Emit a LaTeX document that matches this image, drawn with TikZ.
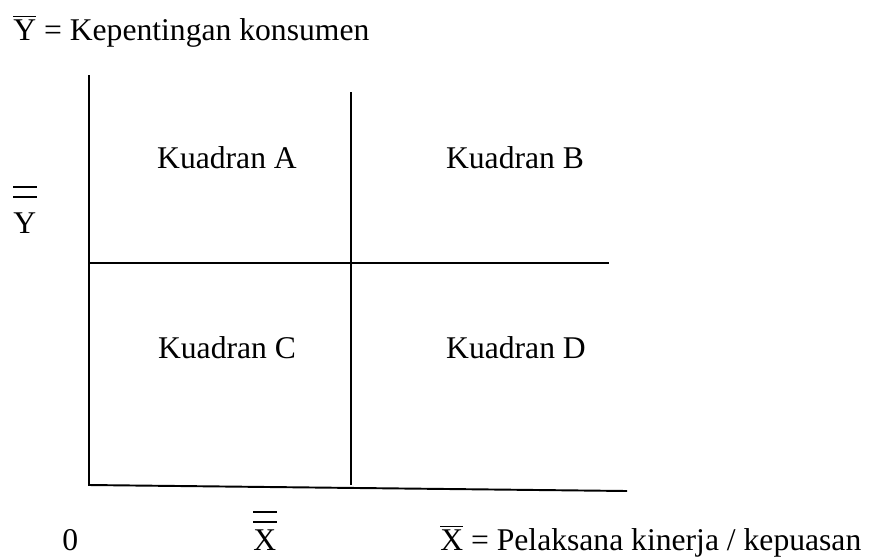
\documentclass[tikz,border=0pt]{standalone}
\usepackage{fontspec}
\setmainfont{Liberation Serif}
\usepackage{tikz}
\usetikzlibrary{positioning}

\tikzset{
    txt/.style={font=\fontsize{18}{21}\selectfont, inner sep=0pt},
    axis/.style={line width=1.1pt},
    bar/.style={line width=0.8pt}
}

\begin{document}
\begin{tikzpicture}[x=0.02cm, y=-0.02cm]
    \useasboundingbox (0,0) rectangle (874,558);
    % axes and quadrant lines
    \coordinate (O) at (89,485);
    \coordinate (ytop) at (89,75);
    \coordinate (xend) at (627,491);
    \coordinate (mtop) at (351,92);
    \coordinate (mbot) at (351,485);
    \coordinate (hl) at (89,263);
    \coordinate (hr) at (609,263);
    \draw[axis] (ytop) -- (O) -- (xend);
    \draw[axis] (mtop) -- (mbot);
    \draw[axis] (hl) -- (hr);
    \foreach \q/\x/\y in {A/227/168, B/515/168, C/227/358, D/516/358} {
        \node[txt, anchor=base] (k\q) at (\x,\y) {Kuadran \q};
    }
    % labels
    \node[txt, anchor=base west] (ylegend) at (13,40) {$\overline{\mbox{Y}}$ = Kepentingan konsumen};
    \node[txt, anchor=base west] (xlegend) at (440,550) {$\overline{\mbox{X}}$ = Pelaksana kinerja / kepuasan};
    \node[txt, anchor=base west] (zero) at (62,550) {0};
    \node[txt, anchor=base west] (ymean) at (13,233) {Y};
    \node[txt, anchor=base west] (xmean) at (253,550) {X};
    \draw[bar] ([yshift=8.5pt]ymean.north west) -- ([yshift=8.5pt]ymean.north east);
    \draw[bar] ([yshift=14.2pt]ymean.north west) -- ([yshift=14.2pt]ymean.north east);
    \draw[bar] ([yshift=4pt]xmean.north west) -- ([yshift=4pt]xmean.north east);
    \draw[bar] ([yshift=9.6pt]xmean.north west) -- ([yshift=9.6pt]xmean.north east);
\end{tikzpicture}
\end{document}
